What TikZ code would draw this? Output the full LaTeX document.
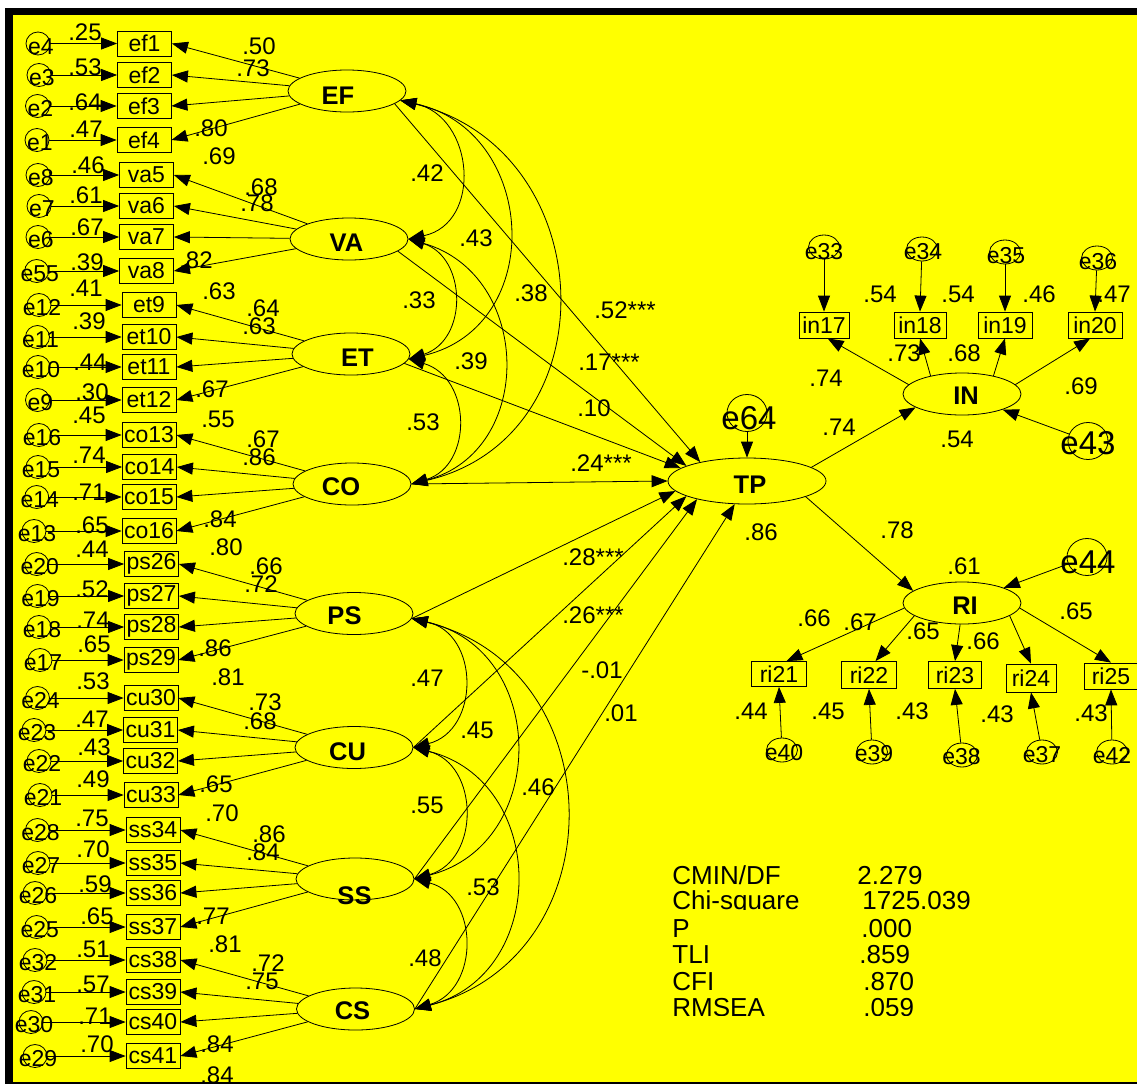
\documentclass[tikz,border=0pt]{standalone}
\usepackage{fontspec}
\setmainfont{Liberation Sans}
\usetikzlibrary{arrows.meta,shapes.geometric}
\definecolor{bgyel}{RGB}{255,255,0}
\newcommand\fsz[1]{\fontsize{#1}{#1}\selectfont}
\begin{document}
\begin{tikzpicture}[x=1pt,y=-1pt,line width=0.8pt,
  lat/.style={ellipse,draw,minimum width=118pt,minimum height=42pt,inner sep=0pt},
  obs/.style={rectangle,draw,minimum width=54pt,minimum height=25pt,inner sep=0pt,font=\fsz{23}},
  errc/.style={ellipse,draw,minimum width=24pt,minimum height=23pt,inner sep=0pt},
  errr/.style={ellipse,draw,minimum width=31pt,minimum height=24pt,inner sep=0pt},
  errb/.style={ellipse,draw,minimum width=40pt,minimum height=37pt,inner sep=0pt},
  etx/.style={inner sep=0pt,font=\fsz{23}},
  bigtx/.style={inner sep=0pt,font=\fsz{33}},
  lattx/.style={inner sep=0pt,font=\bfseries\fsz{25.5}},
  lbl/.style={inner sep=0pt,font=\fsz{24}},
  st/.style={inner sep=0pt,font=\fsz{26},anchor=base west},
  arr/.style={-{Triangle[length=16pt,width=12pt]}},
  cov/.style={{Triangle[length=16pt,width=12pt]}-{Triangle[length=16pt,width=12pt]}}]
\useasboundingbox (0,0) rectangle (1137,1084);
\fill[white] (0,0) rectangle (1137,1084);
\fill[black] (5,8) rectangle (1137,1084);
\fill[bgyel] (13,15) rectangle (1137,1082);

% latent variables
\node[lat] (EF) at (347,91) {};
\node[lat] (VA) at (349,239) {};
\node[lat] (ET) at (351,354) {};
\node[lat] (CO) at (352,484) {};
\node[lat] (PS) at (354,613.5) {};
\node[lat] (CU) at (354,747.5) {};
\node[lat] (SS) at (355,879) {};
\node[lat] (CS) at (355.5,1009) {};
\node[lat,minimum width=158pt,minimum height=46pt] (TP) at (747,481) {};
\node[lat] (IN) at (962,394) {};
\node[lat] (RI) at (962,603) {};
\foreach \n/\x/\y in {EF/338/95.5,VA/346.5/242.5,ET/357.5/357.5,CO/341/487,PS/344.5/616,CU/347.5/751.5,SS/354.5/896,CS/352.5/1011,TP/750/485,IN/966/396,RI/965/606}
  \node[lattx] (t\n) at (\x,\y) {\n};

% left indicators
\foreach \bn/\bx/\bY/\er/\ex/\lt in {
ef1/144.5/43.5/e4/38/EF, ef2/144.5/75/e3/39/EF, ef3/144/106/e2/37.5/EF, ef4/144/140/e1/37/EF,
va5/146.5/175/e8/38/VA, va6/146.5/206/e7/39/VA, va7/146.5/237/e6/38/VA, va8/146.5/271/e55/36.7/VA,
et9/149/305/e12/39/ET, et10/149/337/e11/37.5/ET, et11/149/367/e10/38/ET, et12/149/400/e9/37.5/ET,
co13/149/435/e16/39/CO, co14/149.5/467/e15/38/CO, co15/149/497/e14/36.7/CO, co16/149/531/e13/34/CO,
ps26/151.5/564/e20/36.7/PS, ps27/151.5/596/e19/37.5/PS, ps28/151.5/627/e18/39/PS, ps29/151/660/e17/40/PS,
cu30/151/698/e24/37.5/CU, cu31/150.5/730/e23/34/CU, cu32/150.5/761/e22/39/CU, cu33/151/795/e21/40/CU,
ss34/153/830/e28/37.5/SS, ss35/153/863/e27/38/SS, ss36/153/893/e26/35/SS, ss37/153/927/e25/36.7/SS,
cs38/153/960/e32/35/CS, cs39/153/992/e31/34/CS, cs40/153/1022/e30/31/CS, cs41/153/1056/e29/35/CS}{
  \node[obs] (\bn) at (\bx,\bY) {\bn};
  \node[errc] (\er) at (\ex,\bY) {};
  \node[etx] (t\er) at (\ex+3,\bY+3) {\er};
  \draw[arr] (\er) -- (\bn.west);
  \draw[arr] (\lt) -- (\bn.east);
}

% squared multiple correlations (left)
\foreach \x/\y/\t [count=\i] in {85/32/.25,85/67/.53,85/102/.64,86/129/.47,88/165/.46,86/195/.61,87/227/.67,87/262/.39,
86/288/.41,89/321/.39,90/362/.44,92/392/.30,89/415/.45,89/455/.74,89/492/.71,92/525/.65,92/549/.44,92/589/.52,
93/620/.74,94/644/.65,93/681/.53,92/719/.47,94/747/.43,93/779/.49,92/818/.75,93/849/.70,95/884/.59,97/916/.65,
93/949/.51,93/984/.57,95/1016/.71,97/1044/.70}
  \node[lbl] (sm\i) at (\x,\y) {\t};
% loadings (left)
\foreach \x/\y/\t [count=\i] in {259/46/.50,253/68/.73,211/128/.80,219/156/.69,261/187/.68,257/203/.78,196/260/.82,
219/291/.63,263/308/.64,259/326/.63,212/389/.67,218/419/.55,263/439/.67,259/457/.86,220/519/.84,226/547/.80,
266/566/.66,261/584/.72,215/648/.86,228/677/.81,265/702/.73,260/721/.68,216/784/.65,222/813/.70,269/834/.86,
263/852/.84,213/916/.77,225/944/.81,268/963/.72,262/981/.75,217/1044/.84,217/1075/.84}
  \node[lbl] (ld\i) at (\x,\y) {\t};
% central labels
\foreach \x/\y/\t [count=\i] in {427/173/.42,476/238/.43,419/300/.33,531/293/.38,625/310/.52***,471/361/.39,
609/362/.17***,423/422/.53,594/408/.10,601/463/.24***,593/557/.28***,593/615/.26***,602/670/-.01,621/713/.01,
427/678/.47,477/730/.45,538/787/.46,427/805/.55,483/887/.53,425/958/.48,761/532/.86}
  \node[lbl] (cl\i) at (\x,\y) {\t};
% right labels
\foreach \x/\y/\t [count=\i] in {880/294/.54,958/294/.54,1039/294/.46,1114/294/.47,904/353/.73,964/353/.68,
826/378/.74,1081/386/.69,839/427/.74,957/439/.54,897/530/.78,964/566/.61,1076/611/.65,814/618/.66,860/622/.67,
923/631/.65,983/641/.66,751/711/.44,828/711/.45,912/711/.43,997/714/.43,1091/713/.43}
  \node[lbl] (rl\i) at (\x,\y) {\t};

% covariances
\draw[cov] (EF.-10) .. controls (474.6,116.8) and (482.6,223.2) .. (VA.east);
\draw[cov] (EF.-10) .. controls (537.5,130.7) and (547.5,326.3) .. (ET.-5);
\draw[cov] (EF.-10) .. controls (601.8,149.4) and (612.8,436.6) .. (CO.east);
\draw[cov] (VA.east) .. controls (466.7,256.9) and (468.7,340.1) .. (ET.-5);
\draw[cov] (VA.east) .. controls (532.7,274.6) and (535.7,451.4) .. (CO.east);
\draw[cov] (ET.-5) .. controls (472,377.7) and (473,465.3) .. (CO.east);
\draw[cov] (PS.-5) .. controls (480,633.7) and (480,730.3) .. (CU.east);
\draw[cov] (PS.-5) .. controls (548.6,649.8) and (549.6,844.2) .. (SS.east);
\draw[cov] (PS.-5) .. controls (615,668.6) and (617,956.4) .. (CS.east);
\draw[cov] (CU.east) .. controls (479.4,764.2) and (480.4,859.8) .. (SS.east);
\draw[cov] (CU.east) .. controls (547.9,780.9) and (549.9,974.2) .. (CS.east);
\draw[cov] (SS.east) .. controls (479,895.7) and (480,989.3) .. (CS.east);

% structural paths
\draw[arr] (EF.-15) -- (TP.158);
\draw[arr] (VA.-14) -- (TP.166);
\draw[arr] (ET.-10) -- (TP.169);
\draw[arr] (CO.east) -- (TP.west);
\draw[arr] (PS.-5) -- (TP.188);
\draw[arr] (CU.east) -- (TP.194);
\draw[arr] (SS.east) -- (TP.200);
\draw[arr] (CS.east) -- (TP.242);
\draw[arr] (TP.12) -- (IN.196);
\draw[arr] (TP.-15) -- (RI.166);

% residuals of latent variables
\node[errb] (e64) at (747,413) {};
\node[bigtx] (te64) at (749,418) {e64};
\node[errb] (e43) at (1088,441) {};
\node[bigtx] (te43) at (1088,443) {e43};
\node[errb] (e44) at (1087,557) {};
\node[bigtx] (te44) at (1088,562) {e44};
\draw[arr] (e64) -- (TP.north);
\draw[arr] (e43) -- (IN.-21);
\draw[arr] (e44) -- (RI.20);

% IN indicators
\node[obs,minimum width=50pt,minimum height=26pt] (in17) at (824,325) {in17};
\node[obs,minimum width=52pt,minimum height=26pt] (in18) at (920,325) {in18};
\node[obs,minimum width=54pt,minimum height=26pt] (in19) at (1005,325) {in19};
\node[obs,minimum width=54pt,minimum height=26pt] (in20) at (1095,325) {in20};
\node[errr] (e33) at (824,247) {};
\node[etx] (te33) at (824,252) {e33};
\node[errr] (e34) at (922,249) {};
\node[etx] (te34) at (923,252) {e34};
\node[errr] (e35) at (1005,252) {};
\node[etx] (te35) at (1006,256) {e35};
\node[errr] (e36) at (1097,258) {};
\node[etx] (te36) at (1098,262) {e36};
\draw[arr] (e33) -- (in17.north);
\draw[arr] (e34) -- (in18.north);
\draw[arr] (e35) -- (in19.north);
\draw[arr] (e36) -- (in20.north);
\draw[arr] (IN.170) -- (in17.-75);
\draw[arr] (IN.150) -- (in18.south);
\draw[arr] (IN.30) -- (in19.south);
\draw[arr] (IN.10) -- (in20.-110);

% RI indicators
\node[obs,minimum width=55pt,minimum height=25pt] (ri21) at (779,674) {ri21};
\node[obs,minimum width=55pt,minimum height=27pt] (ri22) at (869,675) {ri22};
\node[obs,minimum width=53pt,minimum height=27pt] (ri23) at (955,675) {ri23};
\node[obs,minimum width=50pt,minimum height=28pt] (ri24) at (1031,678) {ri24};
\node[obs,minimum width=53pt,minimum height=26pt] (ri25) at (1111,676) {ri25};
\node[errr] (e40) at (782,750) {};
\node[etx] (te40) at (784,753) {e40};
\node[errr] (e39) at (872,752) {};
\node[etx] (te39) at (874,754) {e39};
\node[errr] (e38) at (962,755) {};
\node[etx] (te38) at (961.5,757) {e38};
\node[errr] (e37) at (1042,752) {};
\node[etx] (te37) at (1042,755) {e37};
\node[errr] (e42) at (1112,752) {};
\node[etx] (te42) at (1112,756) {e42};
\draw[arr] (e40) -- (ri21.south);
\draw[arr] (e39) -- (ri22.south);
\draw[arr] (e38) -- (ri23.south);
\draw[arr] (e37) -- (ri24.south);
\draw[arr] (e42) -- (ri25.south);
\draw[arr] (RI.185) -- (ri21.60);
\draw[arr] (RI.195) -- (ri22.65);
\draw[arr] (RI.265) -- (ri23.north);
\draw[arr] (RI.-15) -- (ri24.north);
\draw[arr] (RI.-5) -- (ri25.north);

% fit statistics
\begin{scope}\clip (660,860) rectangle (1000,884.5);
\node[st] (s1) at (672,884) {CMIN/DF}; \node[st] (v1) at (857,884) {2.279};\end{scope}
\begin{scope}\clip (660,886) rectangle (1000,909.3);
\node[st] (s2) at (672,909) {Chi-square}; \node[st] (v2) at (862,909) {1725.039};\end{scope}
\begin{scope}\clip (660,911) rectangle (1000,937.5);
\node[st] (s3) at (672,937) {P}; \node[st] (v3) at (861,937) {.000};\end{scope}
\begin{scope}\clip (660,939) rectangle (1000,963.5);
\node[st] (s4) at (672,963) {TLI}; \node[st] (v4) at (859,963) {.859};\end{scope}
\begin{scope}\clip (660,965) rectangle (1000,990.5);
\node[st] (s5) at (672,990) {CFI}; \node[st] (v5) at (863,990) {.870};\end{scope}
\begin{scope}\clip (660,992) rectangle (1000,1015);
\node[st] (s6) at (672,1016) {RMSEA}; \node[st] (v6) at (863,1016) {.059};\end{scope}
\end{tikzpicture}
\end{document}
